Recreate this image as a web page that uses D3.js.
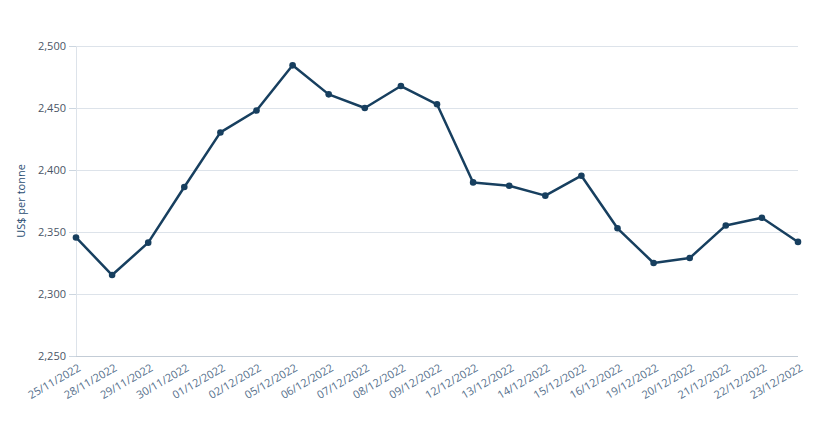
<!DOCTYPE html>
<html><head><meta charset="utf-8">
<script src="https://cdn.jsdelivr.net/npm/d3@7"></script>
<style>body{margin:0;background:#fff;font-family:"Open Sans",sans-serif;}</style>
</head><body>
<svg id="c" width="816" height="431"></svg>
<script>
const dates = ["25/11/2022","28/11/2022","29/11/2022","30/11/2022","01/12/2022","02/12/2022","05/12/2022","06/12/2022","07/12/2022","08/12/2022","09/12/2022","12/12/2022","13/12/2022","14/12/2022","15/12/2022","16/12/2022","19/12/2022","20/12/2022","21/12/2022","22/12/2022","23/12/2022"];
const prices = [2345.6,2315.3,2341.4,2386.3,2430.3,2448,2484.4,2461,2450,2467.7,2453,2390,2387.3,2379.3,2395.4,2353,2325,2329,2355.3,2361.5,2342];
const yTicks = [2250,2300,2350,2400,2450,2500];
const yTitle = "US$ per tonne";

const svg = d3.select("#c");
const L = 76, R = 798, T = 46, B = 356;
const x = d3.scalePoint().domain(dates).range([L, R]);
const y = d3.scaleLinear().domain([2250, 2500]).range([B, T]);

// gridlines
svg.append("g").selectAll("line").data(yTicks).join("line")
  .attr("x1", L).attr("x2", R).attr("y1", d => y(d)).attr("y2", d => y(d))
  .attr("stroke", "#dde3ea").attr("stroke-width", 1).attr("shape-rendering","crispEdges");
// left vertical line
svg.append("line").attr("x1", L).attr("x2", L).attr("y1", T).attr("y2", B)
  .attr("stroke", "#dde3ea").attr("shape-rendering","crispEdges");
// bottom axis line
svg.append("line").attr("x1", L).attr("x2", R).attr("y1", B).attr("y2", B)
  .attr("stroke", "#c3ccd6").attr("shape-rendering","crispEdges");

// y axis
const yAxis = d3.axisLeft(y).tickValues(yTicks).tickFormat(d3.format(",")).tickSize(7).tickPadding(3);
const gy = svg.append("g").attr("transform", `translate(${L},0)`).call(yAxis);
gy.select(".domain").remove();
gy.selectAll(".tick line").attr("stroke", "#ccd6e0");
gy.selectAll("text").attr("fill", "#4a5566").style("font-size", "11px").style("font-family", "'Open Sans',sans-serif");

// x axis
const xAxis = d3.axisBottom(x).tickSize(0).tickPadding(0);
const gx = svg.append("g").attr("transform", `translate(0,${B})`).call(xAxis);
gx.select(".domain").remove();
gx.selectAll("text")
  .attr("fill", "#56708c").style("font-size", "11px").style("font-family", "'Open Sans',sans-serif")
  .attr("text-anchor", "end").attr("dy", null).attr("y", null)
  .attr("transform", "translate(5,14) rotate(-30)");

// y title
svg.append("text").attr("transform", `translate(25,${(T+B)/2}) rotate(-90)`)
  .attr("text-anchor", "middle").attr("fill", "#2a4d72")
  .style("font-size", "11px").style("font-family", "'Open Sans',sans-serif")
  .text(yTitle);

// line
const line = d3.line().x((d, i) => x(dates[i])).y(d => y(d));
svg.append("path").datum(prices).attr("d", line)
  .attr("fill", "none").attr("stroke", "#173f5f").attr("stroke-width", 2.5)
  .attr("stroke-linejoin", "round");
svg.append("g").selectAll("circle").data(prices).join("circle")
  .attr("cx", (d, i) => x(dates[i])).attr("cy", d => y(d)).attr("r", 3.3)
  .attr("fill", "#173f5f");
</script>
</body></html>
